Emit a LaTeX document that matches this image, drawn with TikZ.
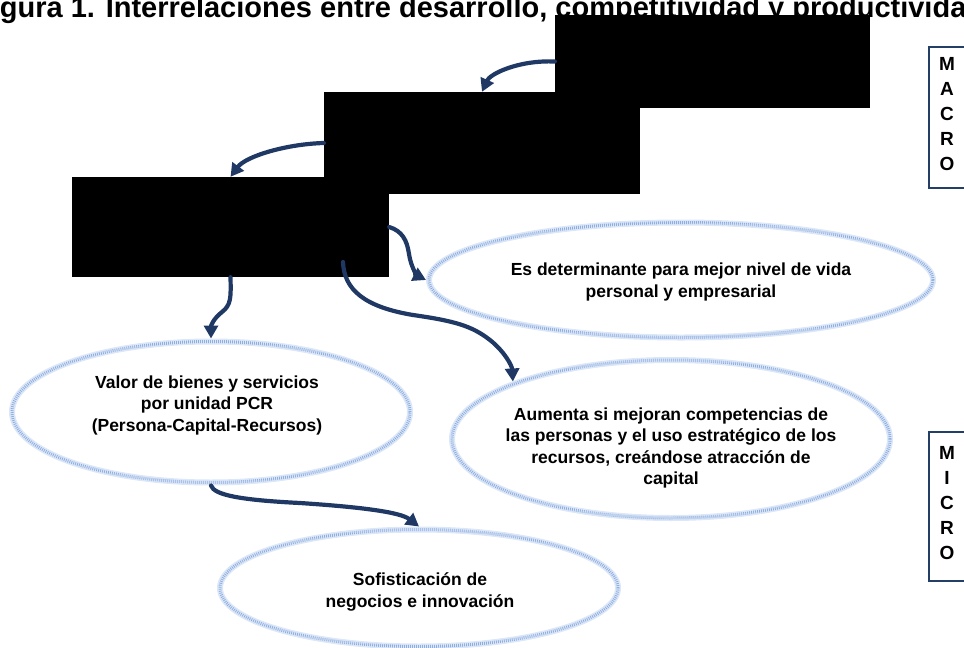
\documentclass[tikz,border=0pt]{standalone}
\usepackage{fontspec}
\setmainfont{Liberation Sans}
\usetikzlibrary{arrows.meta,shapes.geometric}
\definecolor{navy}{HTML}{1F3864}
\definecolor{ellA}{HTML}{DCE7F7}
\definecolor{ellB}{HTML}{8EAEE0}
\definecolor{boxblue}{HTML}{243F66}
\begin{document}
\begin{tikzpicture}[x=1pt,y=-1pt,
  redact/.style={fill=black, draw=none, inner sep=0, rectangle},
  oval/.style={ellipse, inner sep=0, draw=ellA, line width=6pt,
     postaction={draw=ellB, line width=3pt, dash pattern=on 0.8pt off 1.2pt}},
  etxt/.style={font=\fontsize{17.5}{21.5}\selectfont\bfseries, align=center, inner sep=0},
  conn/.style={draw=navy, line width=4.2pt, line cap=round, -{Triangle[length=13pt,width=14pt]}},
  sidebox/.style={draw=boxblue, line width=2.6pt, rectangle, inner sep=0, minimum width=50pt},
  sidetxt/.style={font=\fontsize{19}{25}\selectfont\bfseries, align=center, inner sep=0, anchor=north}]
\useasboundingbox (0,0) rectangle (964,648);
\clip (0,0) rectangle (964,648);
% title (cut by the frame, as in the reference)
\node[font=\fontsize{29}{34}\selectfont\bfseries, anchor=base west, inner sep=0] (title) at (-26,17)
  {Figura 1. Interrelaciones entre desarrollo, competitividad y productividad};
% redacted boxes
\node[redact, minimum width=315pt, minimum height=93pt] (b1) at (712.5,61.5) {};
\node[redact, minimum width=316pt, minimum height=102pt] (b2) at (482,143) {};
\node[redact, minimum width=317pt, minimum height=100pt] (b3) at (230.5,227) {};
% ellipses
\node[oval, minimum width=504pt, minimum height=115pt] (eEs) at (681,280) {};
\node[etxt] (tEs) at (681,282) {Es determinante para mejor nivel de vida\\personal y empresarial};
\node[oval, minimum width=438pt, minimum height=158pt] (eAu) at (671,439) {};
\node[etxt] (tAu) at (671,448) {Aumenta si mejoran competencias de\\las personas y el uso estratégico de los\\recursos, creándose atracción de\\capital};
\node[oval, minimum width=398pt, minimum height=141pt] (eVal) at (211,412) {};
\node[etxt] (tVal) at (207,405) {Valor de bienes y servicios\\por unidad PCR\\(Persona-Capital-Recursos)};
\node[oval, minimum width=398pt, minimum height=117pt] (eSof) at (419,588) {};
\node[etxt] (tSof) at (420,592) {Sofisticación de\\negocios e innovación};
% side boxes
\node[sidebox, minimum height=141pt] (macro) at (954,117.5) {};
\node[sidetxt] (macroT) at (947,57) {M\\A\\C\\R\\O};
\node[sidebox, minimum height=149pt] (micro) at (954,506.5) {};
\node[sidetxt] (microT) at (947,446) {M\\I\\C\\R\\O};
% connectors
\coordinate (s3) at (343,262);
\draw[conn] (b1.west) .. controls (518,60) and (490,74) .. (b2.north);
\draw[conn] (b2.west) .. controls (287,144) and (246,156) .. (b3.north);
\draw[conn] (b3.south) .. controls (231,298) and (231,305) .. (222,312)
   .. controls (213,319) and (211,326) .. (eVal.north);
\draw[conn] (b3.east) .. controls (402,231) and (407,240) .. (409,254)
   .. controls (411,268) and (418,276) .. (eEs.west);
\draw[conn] (s3) .. controls (344,290) and (365,307) .. (413,315)
   .. controls (455,321) and (472,326) .. (490,340)
   .. controls (505,352) and (512,366) .. (eAu.160);
\draw[conn] (eVal.south) .. controls (214,495) and (240,500) .. (300,503)
   .. controls (360,507) and (400,512) .. (eSof.north);
\end{tikzpicture}
\end{document}
